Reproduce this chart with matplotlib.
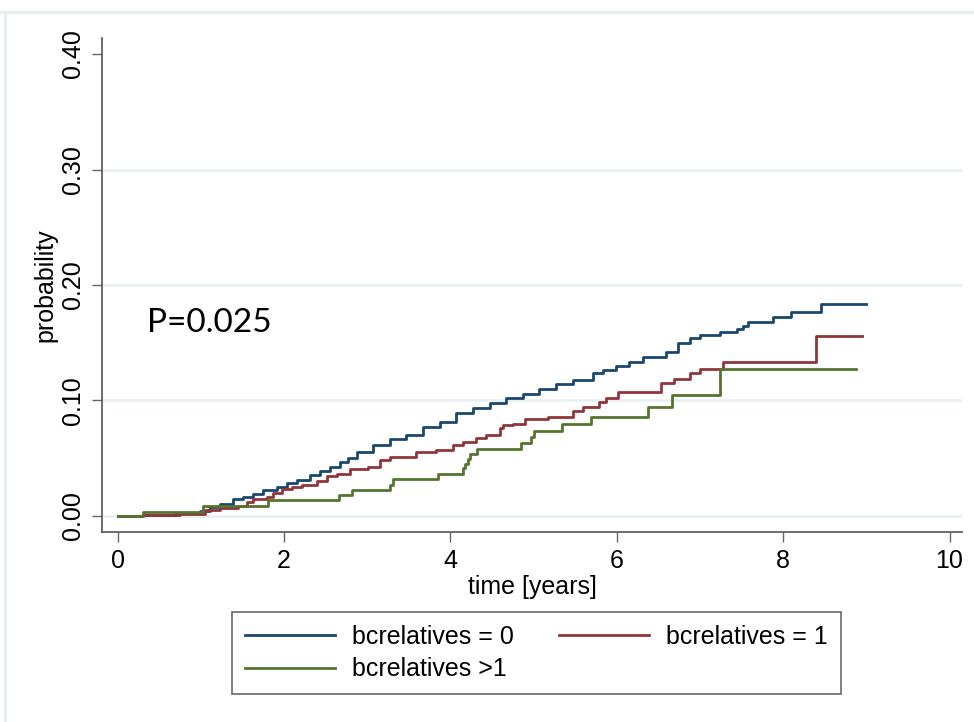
import numpy as np
import matplotlib.pyplot as plt
from matplotlib.lines import Line2D

plt.rcParams['font.family'] = ['Liberation Sans', 'DejaVu Sans']

# cumulative failure estimates (time in years, probability)
t_rel0 = [0, 0.30, 0.70, 0.99, 1.11, 1.23, 1.39, 1.51, 1.63, 1.75, 1.91, 2.03, 2.15,
          2.31, 2.43, 2.55, 2.67, 2.77, 2.87, 3.07, 3.27, 3.47, 3.67, 3.87, 4.07,
          4.27, 4.47, 4.67, 4.87, 5.07, 5.27, 5.47, 5.71, 5.83, 5.99, 6.15, 6.31,
          6.59, 6.73, 6.875, 7.0, 7.24, 7.44, 7.52, 7.58, 7.88, 8.10, 8.45, 9.0]
p_rel0 = [0, 0.001, 0.0023, 0.0043, 0.008, 0.0104, 0.0144, 0.016, 0.0188, 0.0225,
          0.0248, 0.0283, 0.0312, 0.0355, 0.039, 0.0427, 0.047, 0.050, 0.0557,
          0.0615, 0.0664, 0.070, 0.0768, 0.0817, 0.0889, 0.0932, 0.0976, 0.1019,
          0.1056, 0.1097, 0.1143, 0.118, 0.1235, 0.1264, 0.13, 0.1336, 0.138,
          0.1423, 0.1495, 0.1538, 0.157, 0.159, 0.1616, 0.1645, 0.168, 0.172,
          0.1763, 0.1835, 0.1835]

t_rel1 = [0, 0.30, 0.75, 1.05, 1.23, 1.44, 1.55, 1.63, 1.79, 1.87, 1.97, 2.10, 2.22,
          2.39, 2.51, 2.63, 2.79, 3.01, 3.15, 3.27, 3.59, 3.83, 4.03, 4.15, 4.31,
          4.43, 4.59, 4.63, 4.75, 4.89, 5.17, 5.47, 5.59, 5.79, 5.87, 6.01, 6.53,
          6.69, 6.875, 7.0, 7.28, 8.39, 8.95]
p_rel1 = [0, 0.0008, 0.0017, 0.005, 0.007, 0.0087, 0.0124, 0.0147, 0.0167, 0.0196,
          0.023, 0.0248, 0.0268, 0.0306, 0.0346, 0.0364, 0.0407, 0.0427, 0.0485,
          0.0508, 0.0557, 0.0571, 0.0615, 0.0643, 0.0678, 0.070, 0.0759, 0.0788,
          0.080, 0.0837, 0.086, 0.0912, 0.0947, 0.099, 0.102, 0.107, 0.115, 0.119,
          0.1235, 0.127, 0.1336, 0.156, 0.156]

t_rel2 = [0, 0.30, 1.03, 1.81, 2.66, 2.81, 3.27, 3.31, 3.85, 4.15, 4.18, 4.21, 4.24,
          4.32, 4.85, 4.97, 5.00, 5.34, 5.69, 6.38, 6.66, 7.24, 8.88]
p_rel2 = [0, 0.0037, 0.0087, 0.0139, 0.018, 0.0225, 0.027, 0.0318, 0.036, 0.0415,
          0.0447, 0.049, 0.054, 0.058, 0.063, 0.0687, 0.0736, 0.080, 0.086, 0.0947,
          0.105, 0.127, 0.127]

labels = ['bcrelatives = 0', 'bcrelatives = 1', 'bcrelatives >1']
colors = ['#1a476f', '#90353b', '#55752f']
yticks = [0.0, 0.1, 0.2, 0.3, 0.4]
xticks = [0, 2, 4, 6, 8, 10]

fig = plt.figure(figsize=(9.74, 7.22), dpi=100)
ax = fig.add_axes([102/974, 1 - 532/722, 860/974, 494/722])

# light graph-region border (top and left edges)
fig.add_artist(Line2D([0, 1], [1 - 12/722] * 2, color='#e6eef0', lw=2))
fig.add_artist(Line2D([5/974] * 2, [0, 1 - 12/722], color='#e6eef0', lw=2))

for y in yticks[:-1]:
    ax.axhline(y, color='#e8eff1', lw=1.8, zorder=0)

series = [(t_rel0, p_rel0), (t_rel1, p_rel1), (t_rel2, p_rel2)]
for (t, p), c, lab in zip(series, colors, labels):
    ax.step(t, p, where='post', color=c, lw=2.0, label=lab)

ax.set_xlim(-0.19, 10.15)
ax.set_ylim(-0.0139, 0.4139)
ax.set_xticks(xticks)
ax.set_yticks(yticks)
ax.set_yticklabels(['%.2f' % v for v in yticks], rotation=90, va='center')
ax.tick_params(axis='both', labelsize=18, length=7.5, width=1, color='#666666', pad=5)
ax.set_xlabel('time [years]', fontsize=18, labelpad=1)
ax.set_ylabel('probability', fontsize=18, labelpad=2)

for s in ['top', 'right']:
    ax.spines[s].set_visible(False)
for s in ['left', 'bottom']:
    ax.spines[s].set_color('#555555')
    ax.spines[s].set_linewidth(1.2)

ax.text(0.35, 0.159, 'P=0.025', fontsize=24, family=['Lato', 'DejaVu Sans'],
        va='baseline', ha='left')

# legend filled row by row: blue, red on top, green below
h, l = ax.get_legend_handles_labels()
order = [0, 2, 1]
leg = fig.legend([h[i] for i in order], [l[i] for i in order], ncol=2,
                 loc='upper left', bbox_to_anchor=(232/974, 1 - 612/722),
                 fontsize=18, frameon=True, fancybox=False, edgecolor='#444444',
                 handlelength=3.6, handletextpad=0.7, columnspacing=1.8,
                 labelspacing=0.35, borderpad=0.5, borderaxespad=0)
leg.get_frame().set_linewidth(1.2)

plt.savefig('out.png', dpi=100)
